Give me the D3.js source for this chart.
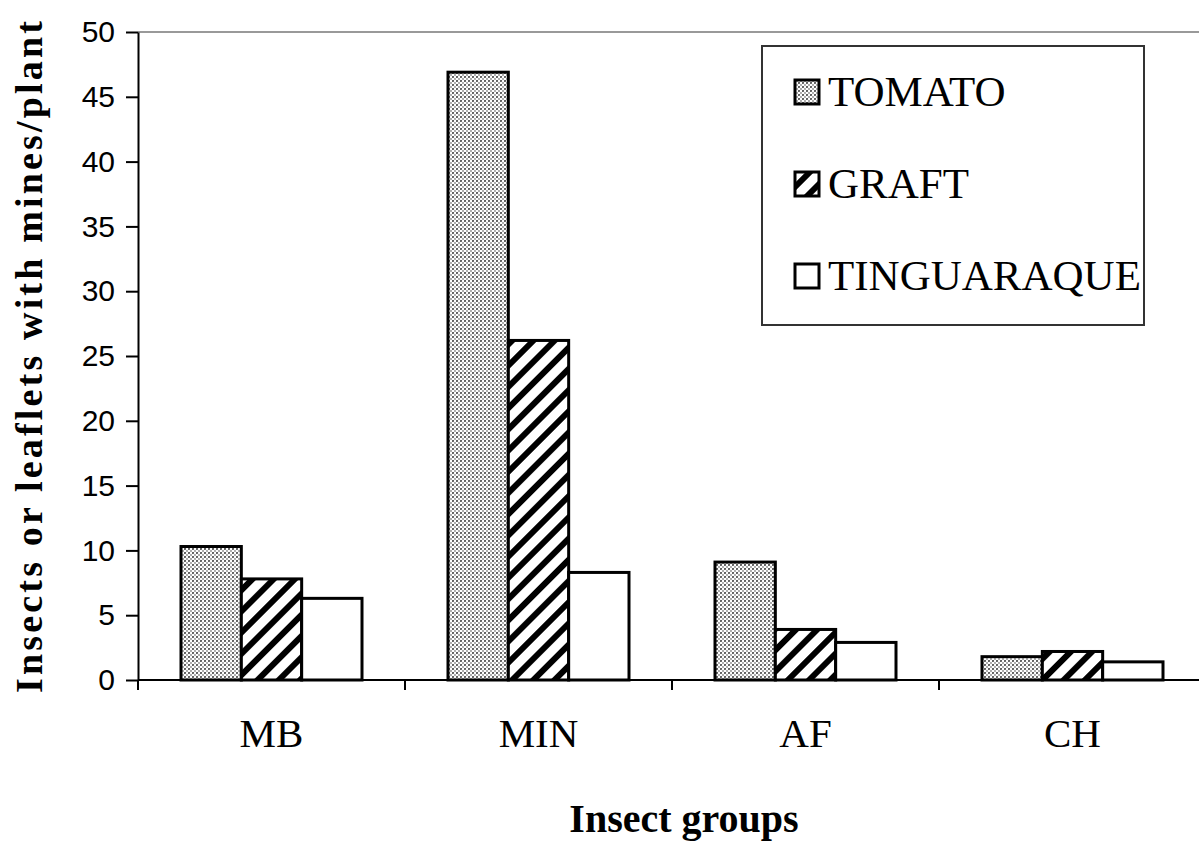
<html>
<head>
<meta charset="utf-8">
<script src="https://cdn.jsdelivr.net/npm/d3@7"></script>
<style>
  body { margin: 0; background: #fff; }
  .tick text { font-family: "Liberation Sans", Arial, sans-serif; font-size: 30px; fill: #000; }
  .domain { stroke: #000; stroke-width: 2px; }
  .tick line { stroke: #000; stroke-width: 2px; }
</style>
</head>
<body>
<svg width="1199" height="844"></svg>
<script>
var groups = ['MB', 'MIN', 'AF', 'CH'];
var seriesNames = ['TOMATO', 'GRAFT', 'TINGUARAQUE'];
var tomato = [10.3, 46.9, 9.1, 1.8];
var graft = [7.8, 26.2, 3.9, 2.2];
var tinguaraque = [6.3, 8.3, 2.9, 1.4];
var yTicks = [0, 5, 10, 15, 20, 25, 30, 35, 40, 45, 50];

var series = [tomato, graft, tinguaraque];
var fills = ['url(#dots)', 'url(#hatch)', '#fff'];

var svg = d3.select('svg');
var margin = { left: 138, right: 0, top: 32, bottom: 164 };
var width = 1199, height = 844;

// patterns
var defs = svg.append('defs');
var dots = defs.append('pattern').attr('id', 'dots')
  .attr('patternUnits', 'userSpaceOnUse').attr('width', 4).attr('height', 4);
dots.append('rect').attr('width', 4).attr('height', 4).attr('fill', '#fff');
dots.append('circle').attr('cx', 1).attr('cy', 1).attr('r', 1.1).attr('fill', '#555');
dots.append('circle').attr('cx', 3).attr('cy', 3).attr('r', 0.9).attr('fill', '#888');

var hatch = defs.append('pattern').attr('id', 'hatch')
  .attr('patternUnits', 'userSpaceOnUse').attr('width', 15).attr('height', 15)
  .attr('patternTransform', 'rotate(45)');
hatch.append('rect').attr('width', 15).attr('height', 15).attr('fill', '#fff');
hatch.append('rect').attr('width', 6).attr('height', 15).attr('fill', '#000');

var x0 = d3.scaleBand().domain(groups).range([margin.left, margin.left + 267 * 4]);
var x1 = d3.scaleBand().domain(d3.range(3)).range([43, 224]);
var y = d3.scaleLinear().domain([0, 50]).range([height - margin.bottom, margin.top]);

// top border
svg.append('line').attr('x1', margin.left).attr('x2', width)
  .attr('y1', y(50)).attr('y2', y(50)).attr('stroke', '#999').attr('stroke-width', 2);

var g = svg.append('g');
groups.forEach(function (grp, i) {
  series.forEach(function (s, j) {
    g.append('rect')
      .attr('x', x0(grp) + x1(j))
      .attr('y', y(s[i]))
      .attr('width', x1.bandwidth())
      .attr('height', y(0) - y(s[i]))
      .attr('fill', fills[j])
      .attr('stroke', '#000').attr('stroke-width', 3);
  });
});

// y axis
svg.append('g').attr('transform', 'translate(' + margin.left + ',0)')
  .call(d3.axisLeft(y).tickValues(yTicks).tickSize(12).tickPadding(11).tickSizeOuter(0));

// x axis
var xa = svg.append('g').attr('transform', 'translate(0,' + y(0) + ')');
xa.append('line').attr('x1', margin.left).attr('x2', width).attr('stroke', '#000').attr('stroke-width', 2);
[0, 1, 2, 3, 4].forEach(function (k) {
  xa.append('line').attr('x1', margin.left + 267 * k).attr('x2', margin.left + 267 * k)
    .attr('y1', 0).attr('y2', 10).attr('stroke', '#000').attr('stroke-width', 2);
});
groups.forEach(function (grp) {
  xa.append('text').attr('x', x0(grp) + x0.bandwidth() / 2).attr('y', 67)
    .attr('text-anchor', 'middle').attr('font-family', 'Liberation Serif, serif')
    .attr('font-size', 41).text(grp);
});

// axis titles
svg.append('text').attr('x', 684).attr('y', 832).attr('text-anchor', 'middle')
  .attr('font-family', 'Liberation Serif, serif').attr('font-weight', 'bold')
  .attr('font-size', 40).text('Insect groups');
svg.append('text').attr('transform', 'translate(42,357) rotate(-90)')
  .attr('text-anchor', 'middle').attr('font-family', 'Liberation Serif, serif')
  .attr('font-weight', 'bold').attr('font-size', 38)
  .attr('textLength', 672).attr('lengthAdjust', 'spacing')
  .text('Insects or leaflets with mines/plant');

// legend
var lg = svg.append('g').attr('transform', 'translate(762,46)');
lg.append('rect').attr('width', 382).attr('height', 279)
  .attr('fill', '#fff').attr('stroke', '#333').attr('stroke-width', 2);
seriesNames.forEach(function (name, j) {
  var yy = 47 + j * 92;
  lg.append('rect').attr('x', 33).attr('y', yy - 13).attr('width', 24).attr('height', 24)
    .attr('fill', fills[j]).attr('stroke', '#000').attr('stroke-width', 3);
  lg.append('text').attr('x', 66).attr('y', yy + 13)
    .attr('font-family', 'Liberation Serif, serif').attr('font-size', 43)
    .text(name);
});
</script>
</body>
</html>
